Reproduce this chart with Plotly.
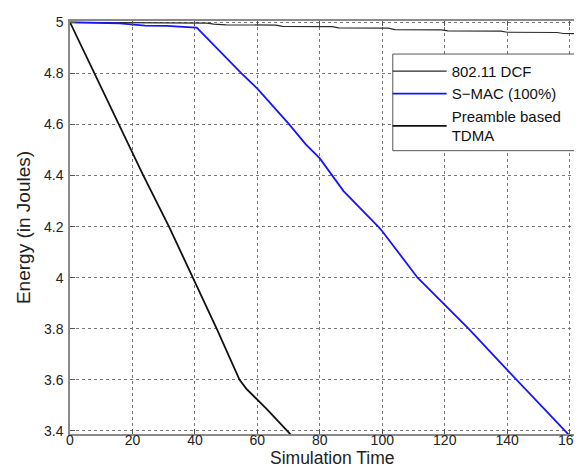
import plotly.graph_objects as go

# ---- data ----
dcf_x = [0, 14, 44, 46, 50, 66, 68, 84, 86, 102, 104, 119, 121, 138, 140, 156, 158, 164.5]
dcf_y = [5.0, 4.999, 4.997, 4.993, 4.990, 4.989, 4.984, 4.983, 4.978, 4.977, 4.971, 4.970,
         4.966, 4.965, 4.961, 4.960, 4.956, 4.955]

smac_x = [0, 8, 16, 24, 31, 39, 40.6, 54.9, 60, 70.2, 75.5, 80, 82.8, 87.6, 98.7, 100,
          111.3, 120, 127.7, 140, 143, 159.4, 160.5]
smac_y = [5.0, 4.998, 4.996, 4.987, 4.986, 4.980, 4.979, 4.800, 4.740, 4.600, 4.522, 4.467,
          4.420, 4.339, 4.200, 4.182, 4.000, 3.894, 3.800, 3.639, 3.600, 3.390, 3.375]

tdma_x = [0, 21.1, 23.5, 31.7, 39.4, 47, 54.3, 56.5, 62.8, 70.5, 71.5]
tdma_y = [5.0, 4.465, 4.400, 4.200, 4.000, 3.800, 3.600, 3.565, 3.488, 3.388, 3.375]

x_ticks = [0, 20, 40, 60, 80, 100, 120, 140, 160]
y_ticks = [3.4, 3.6, 3.8, 4.0, 4.2, 4.4, 4.6, 4.8, 5.0]

names = ["802.11 DCF", "S\u2212MAC (100%)", "Preamble based<br>TDMA"]
x_title = "Simulation Time"
y_title = "Energy (in Joules)"

FONT = "Liberation Sans, Arial, Helvetica, sans-serif"

fig = go.Figure()
fig.add_trace(go.Scatter(x=dcf_x, y=dcf_y, mode="lines", name=names[0],
                         line=dict(color="#2a2a2a", width=1.2)))
fig.add_trace(go.Scatter(x=smac_x, y=smac_y, mode="lines", name=names[1],
                         line=dict(color="#1414ff", width=1.8)))
fig.add_trace(go.Scatter(x=tdma_x, y=tdma_y, mode="lines", name=names[2],
                         line=dict(color="#111111", width=1.8)))

axis_common = dict(
    showline=True, linecolor="#8a8a8a", linewidth=1.5, mirror="allticks",
    ticks="inside", ticklen=5, tickcolor="#555555", tickwidth=1,
    showgrid=True, gridcolor="#777777", griddash="dot", gridwidth=1,
    zeroline=False, automargin=False,
    tickfont=dict(family=FONT, size=14, color="#222222"),
)

fig.update_layout(
    width=582, height=468,
    margin=dict(l=62, r=6, t=13, b=42),
    paper_bgcolor="white", plot_bgcolor="white",
    font=dict(family=FONT, color="#222222"),
    xaxis=dict(range=[0, 164.6], tickvals=x_ticks, ticklabelstandoff=-8, **axis_common),
    yaxis=dict(range=[3.388, 5.005], tickvals=y_ticks, ticklabelstandoff=2,
               title=dict(text=y_title, font=dict(family=FONT, size=19), standoff=8),
               **axis_common),
    legend=dict(x=0.618, y=0.918, xanchor="left", yanchor="top",
                bgcolor="rgba(0,0,0,0)", borderwidth=0,
                font=dict(family=FONT, size=15, color="#111111"),
                itemwidth=54, tracegroupgap=0),
    showlegend=True,
    shapes=[dict(type="rect", xref="paper", yref="paper",
                 x0=0.628, x1=0.994, y0=0.686, y1=0.920,
                 fillcolor="white", line=dict(color="#555555", width=1), layer="above")],
    annotations=[dict(text=x_title, xref="paper", yref="paper", x=0.51, y=-0.058,
                      xanchor="center", yanchor="middle", showarrow=False, borderpad=0,
                      font=dict(family=FONT, size=17.5, color="#222222"))],
)

fig.write_html("out.html")
